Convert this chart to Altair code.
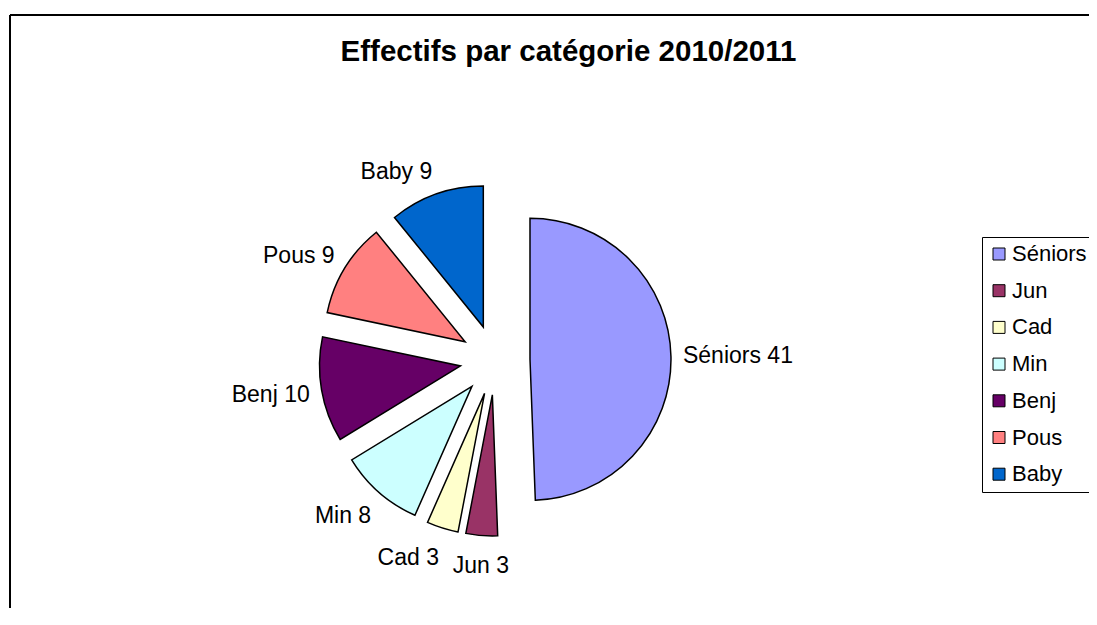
import altair as alt
import numpy as np
import pandas as pd

# ---- data ----
categories = ["Séniors", "Jun", "Cad", "Min", "Benj", "Pous", "Baby"]
values = [41, 3, 3, 8, 10, 9, 9]
colors = ["#9999FF", "#993366", "#FFFFCC", "#CCFFFF", "#660066", "#FF8080", "#0066CC"]
title_text = "Effectifs par catégorie 2010/2011"

# ---- styling / layout constants ----
W, H = 1079, 593
CX, CY = 485, 345          # pie centre inside the view (pixels)
EXPLODE = 35               # slice explosion distance
R = 141                    # pie radius
GAP = 12                   # label gap outside the arc
FONT = "Liberation Sans"

df = pd.DataFrame({"cat": categories, "val": values})
total = df["val"].sum()
end = df["val"].cumsum()
start = end - df["val"]
df["a0"] = 2 * np.pi * start / total
df["a1"] = 2 * np.pi * end / total
mid = (df["a0"] + df["a1"]) / 2
df["s"] = np.sin(mid)
df["c"] = np.cos(mid)
df["dx"] = EXPLODE * df["s"]
df["dy"] = -EXPLODE * df["c"]
k = np.where(df["c"] > 0, 11, 19)
df["lx"] = df["dx"] + (R + GAP) * df["s"]
df["ly"] = df["dy"] - (R + GAP) * df["c"] - k * df["c"]
df["label"] = df["cat"] + " " + df["val"].astype(str)
df["side"] = np.where(df["s"] > 0.2, "right", np.where(df["s"] < -0.2, "left", "center"))

xs = alt.Scale(domain=[-CX, W - CX], nice=False, zero=False)
ys = alt.Scale(domain=[-CY, H - CY], nice=False, zero=False, reverse=True)

arcs = alt.Chart(df).mark_arc(outerRadius=R, stroke="black", strokeWidth=1.5).encode(
    x=alt.X("dx:Q", scale=xs, axis=None),
    y=alt.Y("dy:Q", scale=ys, axis=None),
    theta=alt.Theta("a0:Q", scale=None, stack=False),
    theta2="a1:Q",
    color=alt.Color(
        "cat:N",
        scale=alt.Scale(domain=categories, range=colors),
        sort=categories,
        legend=alt.Legend(
            title=None,
            orient="none",
            legendX=972,
            legendY=222,
            symbolType="square",
            symbolSize=144,
            symbolStrokeColor="black",
            symbolStrokeWidth=1,
            symbolOpacity=1,
            labelFont=FONT,
            labelFontSize=22,
            labelColor="black",
            labelOffset=2,
            rowPadding=14.7,
            padding=6,
            strokeColor="black",
            fillColor="white",
        ),
    ),
)

label_layers = []
for side, align in [("right", "left"), ("left", "right"), ("center", "center")]:
    label_layers.append(
        alt.Chart(df)
        .transform_filter(alt.datum.side == side)
        .mark_text(align=align, baseline="middle", fontSize=23, font=FONT, color="black")
        .encode(
            x=alt.X("lx:Q", scale=xs, axis=None),
            y=alt.Y("ly:Q", scale=ys, axis=None),
            text="label:N",
        )
    )

border = alt.Data(values=[{"b": 1}])
top_line = alt.Chart(border).mark_rule(color="black", strokeWidth=2).encode(
    x=alt.value(0), x2=alt.value(W + 4), y=alt.value(0)
)
left_line = alt.Chart(border).mark_rule(color="black", strokeWidth=2).encode(
    x=alt.value(0), y=alt.value(0), y2=alt.value(H)
)

chart = alt.layer(top_line, left_line, arcs, *label_layers).properties(
    width=W,
    height=H,
    autosize=alt.AutoSizeParams(type="none"),
    padding={"left": 2, "top": 7, "right": 0, "bottom": 0},
    title=alt.TitleParams(
        text=title_text,
        anchor="middle",
        frame="group",
        orient="top",
        offset=-46,
        baseline="alphabetic",
        dx=19,
        dy=30,
        font=FONT,
        fontSize=29.5,
        fontWeight="bold",
        color="black",
    ),
).configure_view(stroke=None).configure(background="white")

chart.save("out.html", embed_options={"renderer": "svg", "actions": False})
